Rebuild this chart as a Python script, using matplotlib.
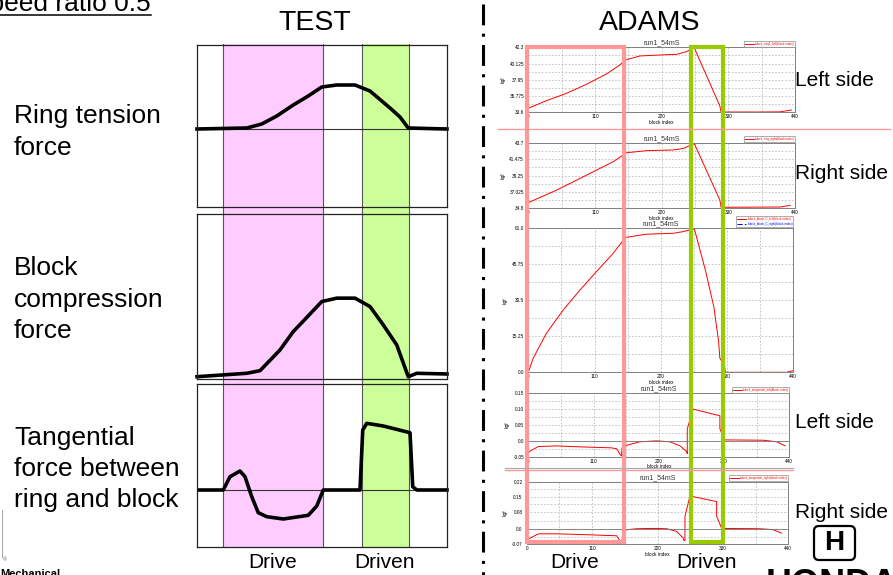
import matplotlib.pyplot as plt
from matplotlib.patches import Rectangle, FancyBboxPatch
from matplotlib.lines import Line2D

W, H = 893, 575
plt.rcParams['font.family'] = ['Liberation Sans', 'DejaVu Sans']
plt.rcParams['lines.scale_dashes'] = False

# ---- TEST traces (x = % of measuring window, force in arbitrary units, 0 = unloaded)
drive_span = (10.4, 50.4)
driven_span = (66.0, 84.8)

ring_x = [0, 19.9, 25.9, 31.9, 38.5, 44.5, 49.9, 55.9, 63.2, 69.2, 77.2, 81.2, 84.5, 100]
ring_f = [0, 1, 5, 13, 24, 33, 42, 44, 44, 38, 21, 12, 1, 0]

block_x = [0, 19.9, 25.2, 33.2, 38.5, 44.5, 49.9, 55.9, 63.2, 69.2, 74.5, 79.9, 84.5, 87.9, 100]
block_f = [0, 3.4, 6, 26.7, 45, 60.7, 75, 78.4, 78.4, 70, 51.7, 31.7, 0, 3.4, 2.7]

tang_x = [0.9, 10.5, 13.2, 17.2, 19.2, 21.9, 24.5, 27.9, 34.5, 44.5, 47.9, 50.5,
          65.2, 66.3, 67.9, 74.5, 85.2, 86.3, 87.9, 100]
tang_f = [0, 0, 13.3, 19, 13.3, -6.7, -22.7, -26.7, -29, -25.3, -16, 0,
          0, 60, 66.7, 64, 57.3, 3.3, 0, 0]

# ---- ADAMS results (x = block index, y = kgf)
ring_l_idx = [0, 30, 63, 96, 129, 151, 160, 184, 217, 245, 261, 272, 274, 316, 318, 324, 380, 415, 434]
ring_l_kgf = [34.14, 35.16, 36.14, 37.35, 38.73, 39.94, 40.6, 41.14, 41.27, 41.36, 41.72, 42.17,
              42.2, 34.45, 33.66, 33.64, 33.64, 33.66, 33.9]
ring_l_ticks = ['33.6', '35.775', '37.95', '40.125', '42.3']

ring_r_idx = [0, 47, 102, 140, 154, 162, 195, 239, 256, 272, 274, 316, 318, 324, 415, 432]
ring_r_kgf = [35.57, 37.28, 39.54, 41.12, 41.89, 42.34, 42.62, 42.71, 42.93, 43.52, 43.55,
              35.93, 34.95, 34.94, 34.97, 35.2]
ring_r_ticks = ['34.8', '37.025', '39.25', '41.475', '43.7']

block_c_idx = [0, 8, 30, 58, 86, 113, 141, 155, 163, 196, 241, 257, 274, 276, 294, 308, 316,
               318, 326, 327, 429, 440]
block_c_kgf = [0, 5.9, 16.5, 26.4, 34.9, 42.6, 50.4, 55.1, 57.2, 58.5, 58.9, 59.6, 60.7, 60.5,
               43.3, 27.8, 13, 6, 2.7, 0, 0, 0.7]
block_c_ticks = ['0.0', '15.25', '30.5', '45.75', '61.0']

tan_l_idx = [0, 3, 17, 48, 87, 140, 149, 153, 157, 158, 166, 188, 216, 239, 256, 267, 268,
             268, 278, 323, 323, 331, 396, 419, 433]
tan_l_kgf = [-0.038, -0.032, -0.018, -0.016, -0.019, -0.022, -0.025, -0.038, -0.048, -0.022,
             -0.014, -0.003, 0.0, -0.003, -0.016, -0.034, -0.040, 0.038, 0.100, 0.079, 0.038,
             0.003, 0.002, -0.003, -0.016]
tan_l_ticks = ['-0.05', '0.0', '0.05', '0.10', '0.15']
tan_l_vals = [-0.05, 0.0, 0.05, 0.10, 0.15]

tan_r_idx = [0, 5.6, 19.6, 50.4, 89.7, 151.3, 155.8, 159.8, 163.7, 168.2, 185, 213, 235.4,
             252.2, 263.4, 264.5, 266.2, 266.2, 274.6, 319.5, 319.5, 328, 392.4, 414.8, 428.8]
tan_r_kgf = [-0.053, -0.042, -0.022, -0.022, -0.025, -0.031, -0.05, -0.058, -0.011, -0.003,
             0.0016, 0.003, 0.0016, -0.011, -0.042, -0.053, -0.053, 0.059, 0.153, 0.127, 0.059,
             0.003, 0.0016, -0.003, -0.019]
tan_r_ticks = ['-0.07', '0.0', '0.08', '0.15', '0.22']
tan_r_vals = [-0.069, 0.0, 0.078, 0.15, 0.219]

fig = plt.figure(figsize=(W / 100, H / 100), dpi=100)


def px_axes(x0, y0, x1, y1):
    return fig.add_axes([x0 / W, 1 - y1 / H, (x1 - x0) / W, (y1 - y0) / H])


def ftext(x, y, s, **kw):
    kw.setdefault('va', 'baseline')
    return fig.text(x / W, 1 - y / H, s, **kw)


# ---------------- TEST side ----------------
bg = px_axes(197, 44, 447, 547)
bg.axvspan(*drive_span, color='#ffccff', lw=0)
bg.axvspan(*driven_span, color='#ccff99', lw=0)
for v in drive_span + driven_span:
    bg.axvline(v, color='#555555', lw=0.8)
bg.set_xlim(0, 100)
bg.axis('off')

test_panels = [
    ((45, 207), (-78, 84), ring_x, ring_f, True),
    ((214, 379), (-2.3, 162.4), block_x, block_f, False),
    ((384, 547), (-57, 106), tang_x, tang_f, True),
]
for (y0, y1), ylim, xs, fs, midline in test_panels:
    ax = px_axes(197, y0, 447, y1)
    ax.patch.set_alpha(0)
    if midline:
        ax.axhline(0, color='#333333', lw=0.8)
    ax.plot(xs, fs, color='black', lw=2.6, solid_joinstyle='round', clip_on=False)
    ax.set_xlim(0, 100)
    ax.set_ylim(*ylim)
    ax.set_xticks([])
    ax.set_yticks([])
    for s in ax.spines.values():
        s.set_color('#222222')
        s.set_linewidth(0.9)


# ---------------- ADAMS side ----------------
def adams(box, xs, ys, tick_vals, tick_labels, legend_labels, zero_line=False):
    ax = px_axes(*box)
    ax.plot(xs, ys, color='red', lw=0.7)
    ax.set_xlim(0, 440)
    ax.set_ylim(tick_vals[0], tick_vals[-1])
    ax.set_xticks([0, 110, 220, 330, 440])
    ax.set_xticks(range(55, 440, 110), minor=True)
    ax.set_yticks(tick_vals)
    ax.set_yticklabels(tick_labels)
    mids = [(a + b) / 2 for a, b in zip(tick_vals[:-1], tick_vals[1:])]
    ax.set_yticks(mids, minor=True)
    ax.grid(which='both', color='#9a9a9a', lw=0.4, ls=(0, (1.2, 1.2)))
    if zero_line:
        ax.axhline(0, color='#777777', lw=0.6)
    ax.tick_params(which='both', length=0, labelsize=3.4, pad=3)
    ax.tick_params(axis='x', pad=1.5)
    ax.set_xlabel('block index', fontsize=3.4, labelpad=0.5)
    ax.set_ylabel('kgf', fontsize=3.4, labelpad=3)
    ax.set_title('run1_54mS', fontsize=5, pad=2, color='#333333')
    for s in ax.spines.values():
        s.set_color('#808080')
        s.set_linewidth(0.7)
    handles = [Line2D([], [], color='red', lw=0.7)]
    if len(legend_labels) > 1:
        handles.append(Line2D([], [], color='blue', lw=0.7, ls='--'))
    leg = ax.legend(handles, legend_labels, loc='lower right', bbox_to_anchor=(1.0, 1.01),
                    fontsize=2.2, frameon=True, fancybox=False, borderpad=0.35,
                    handlelength=3, handletextpad=0.4, labelspacing=0.2, borderaxespad=0)
    leg.get_frame().set_edgecolor('#888888')
    leg.get_frame().set_linewidth(0.6)
    for t, h in zip(leg.get_texts(), handles):
        t.set_color(h.get_color())
    return ax


adams((528.3, 47.3, 795, 112.3), ring_l_idx, ring_l_kgf,
      [33.6, 35.775, 37.95, 40.125, 42.3], ring_l_ticks, ['block_ring1_left(block index)'])
adams((528.3, 142.7, 795, 208.3), ring_r_idx, ring_r_kgf,
      [34.8, 37.025, 39.25, 41.475, 43.7], ring_r_ticks, ['block_ring_right(block index)'])
adams((528.3, 228.3, 793.3, 372.3), block_c_idx, block_c_kgf,
      [0.0, 15.25, 30.5, 45.75, 61.0], block_c_ticks,
      ['block_block_C_left(block index)', 'block_block_C_right(block index)'])
adams((528.3, 393.3, 789.3, 456.7), tan_l_idx, tan_l_kgf,
      tan_l_vals, tan_l_ticks, ['block_tangential_left(block index)'], zero_line=True)
adams((526.7, 481.7, 788.3, 544), tan_r_idx, tan_r_kgf,
      tan_r_vals, tan_r_ticks, ['block_tangential_right(block index)'], zero_line=True)

# ---------------- overlay: frames, separators, logo ----------------
ov = fig.add_axes([0, 0, 1, 1])
ov.patch.set_alpha(0)
ov.set_xlim(0, W)
ov.set_ylim(H, 0)
ov.axis('off')

ov.plot([498, 890], [129, 129], color='#ff9999', lw=1.0)
ov.plot([505, 793], [468, 468], color='#aaaaaa', lw=0.8)
ov.plot([505, 793], [469.5, 469.5], color='#ff9999', lw=1.0)
ov.add_patch(Rectangle((527, 46.5), 97, 495.5, fill=False, ec='#ff9999', lw=3.0))
ov.add_patch(Rectangle((691, 46.5), 32, 495.5, fill=False, ec='#99cc00', lw=3.0))
ov.plot([483, 483], [4, 575], color='black', lw=2.2, dashes=(15, 6, 2.2, 6))
ov.plot([0, 151], [14.5, 14.5], color='black', lw=1.1)
ov.plot([2, 2], [510, 557], color='#aaaaaa', lw=0.8)
ov.add_patch(FancyBboxPatch((814, 526), 41, 34, boxstyle='round,pad=0,rounding_size=5',
                            fill=False, ec='black', lw=1.6))

# ---------------- texts ----------------
big = 19
ftext(151, 11, 'Speed ratio 0.5', fontsize=big, ha='right')
ftext(315, 30, 'TEST', fontsize=20.5, ha='center')
ftext(650, 30, 'ADAMS', fontsize=20.5, ha='center')

for y, s in [(123.4, 'Ring tension'), (155.4, 'force'),
             (275.4, 'Block'), (307.4, 'compression'), (338.4, 'force'),
             (445.4, 'Tangential'), (476.4, 'force between'), (507.4, 'ring and block')]:
    ftext(14, y, s, fontsize=big)

for x, s in [(273, 'Drive'), (385, 'Driven'), (575, 'Drive'), (707, 'Driven')]:
    ftext(x, 568.5, s, fontsize=15, ha='center')

for y, s in [(85.5, 'Left side'), (179.5, 'Right side'), (427.5, 'Left side'), (517.5, 'Right side')]:
    ftext(795, y, s, fontsize=15)

ftext(834.5, 550, 'H', fontsize=20, fontweight='bold', ha='center')
ftext(832, 595, 'HONDA', fontsize=26, fontweight='bold', ha='center')
ftext(0, 577, 'Mechanical', fontsize=8, fontweight='bold')
ftext(5, 561, '\u00ae', fontsize=4, color='#666666', ha='center')

fig.savefig('out.png', dpi=100)
